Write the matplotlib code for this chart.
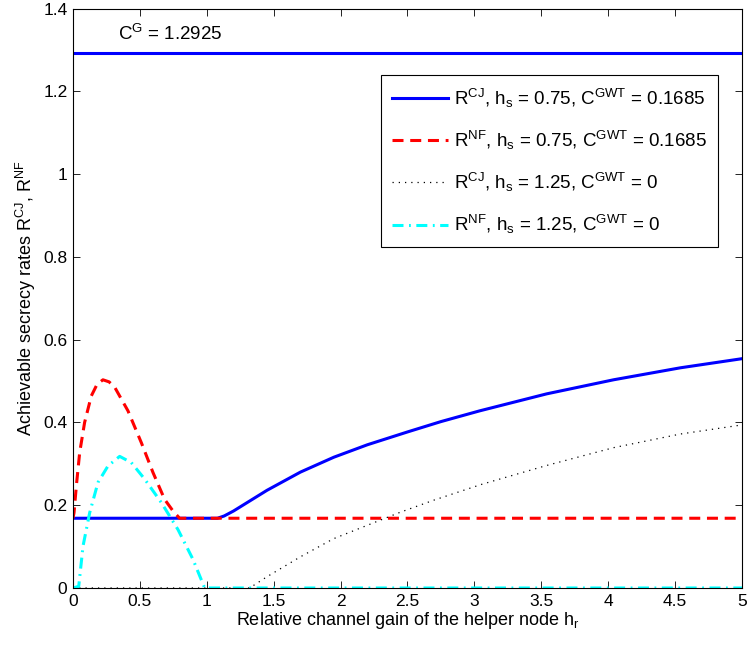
import numpy as np
import matplotlib
matplotlib.use('Agg')
import matplotlib.pyplot as plt
from matplotlib.ticker import FuncFormatter

plt.rcParams['font.family'] = ['Liberation Sans', 'DejaVu Sans']
plt.rcParams['mathtext.default'] = 'regular'

# Gaussian capacity reference line
cg_value = 1.2925
c_gwt = 0.1685

# Cooperative jamming, h_s = 0.75
hr_cj1 = [0, 1.08, 1.13, 1.2, 1.3, 1.45, 1.7, 1.95, 2.2, 2.5, 2.75, 3.04, 3.54, 4.04, 4.54, 5.0]
r_cj1 = [0.1685, 0.1685, 0.174, 0.186, 0.206, 0.236, 0.280, 0.316, 0.346, 0.377, 0.402, 0.428, 0.469, 0.503, 0.532, 0.554]

# Noise forwarding, h_s = 0.75
hr_nf1 = [0, 0.008, 0.025, 0.05, 0.087, 0.137, 0.18, 0.224, 0.27, 0.312, 0.411, 0.511, 0.598, 0.685, 0.75, 0.797, 5.0]
r_nf1 = [0.1685, 0.182, 0.246, 0.327, 0.400, 0.464, 0.492, 0.503, 0.498, 0.485, 0.428, 0.351, 0.279, 0.214, 0.185, 0.1685, 0.1685]

# Cooperative jamming, h_s = 1.25
hr_cj2 = [0, 1.32, 1.449, 1.698, 1.947, 2.196, 2.446, 2.695, 3.05, 3.54, 4.04, 4.54, 5.0]
r_cj2 = [0, 0, 0.027, 0.075, 0.119, 0.151, 0.183, 0.212, 0.250, 0.296, 0.339, 0.372, 0.394]

# Noise forwarding, h_s = 1.25
hr_nf2 = [0, 0.043, 0.075, 0.125, 0.187, 0.262, 0.349, 0.436, 0.536, 0.661, 0.785, 0.897, 0.984, 5.0]
r_nf2 = [0, 0.004, 0.101, 0.182, 0.255, 0.295, 0.318, 0.303, 0.263, 0.206, 0.141, 0.069, 0.0, 0.0]

fig = plt.figure(figsize=(7.5, 6.46), dpi=100)
ax = fig.add_axes([0.0973, 0.0898, 0.892, 0.897])

ax.axhline(cg_value, color='#0000ff', lw=2.2)
ax.plot(hr_cj1, r_cj1, color='#0000ff', lw=2.2,
        label='R$^{CJ}$, h$_s$ = 0.75, C$^{GWT}$ = 0.1685')
ax.plot(hr_nf1, r_nf1, color='#ff0000', lw=2.2, dashes=(3.6, 2.2),
        label='R$^{NF}$, h$_s$ = 0.75, C$^{GWT}$ = 0.1685')
ax.plot(hr_cj2, r_cj2, color='black', lw=0.9, dashes=(1, 4),
        label='R$^{CJ}$, h$_s$ = 1.25, C$^{GWT}$ = 0')
ax.plot(hr_nf2, r_nf2, color='#00ffff', lw=2.2, dashes=(3.6, 1.8, 0.6, 1.8),
        label='R$^{NF}$, h$_s$ = 1.25, C$^{GWT}$ = 0')

ax.text(0.34, 1.338, 'C$^G$ = %.4f' % cg_value, fontsize=13.5, ha='left', va='center')

ax.set_xlim(0, 5)
ax.set_ylim(0, 1.4)
ax.set_xticks(np.arange(0, 5.01, 0.5))
ax.set_yticks(np.arange(0, 1.41, 0.2))
fmt = FuncFormatter(lambda v, p: '%g' % round(v, 2))
ax.xaxis.set_major_formatter(fmt)
ax.yaxis.set_major_formatter(fmt)
ax.tick_params(direction='in', top=True, right=True, length=5, width=0.6,
               labelsize=12.5, pad=4)
for s in ax.spines.values():
    s.set_linewidth(0.8)

ax.set_xlabel('Relative channel gain of the helper node h$_r$', fontsize=13, labelpad=1)
ax.set_ylabel('Achievable secrecy rates R$^{CJ}$, R$^{NF}$', fontsize=13, labelpad=4)

leg = ax.legend(loc='upper right', bbox_to_anchor=(0.9646, 0.885), fontsize=13.5,
                fancybox=False, edgecolor='black', framealpha=1, handlelength=3.0,
                labelspacing=1.02, borderpad=0.6, handletextpad=0.3, borderaxespad=0)
leg.get_frame().set_linewidth(0.8)

fig.savefig('out.png', dpi=100)
